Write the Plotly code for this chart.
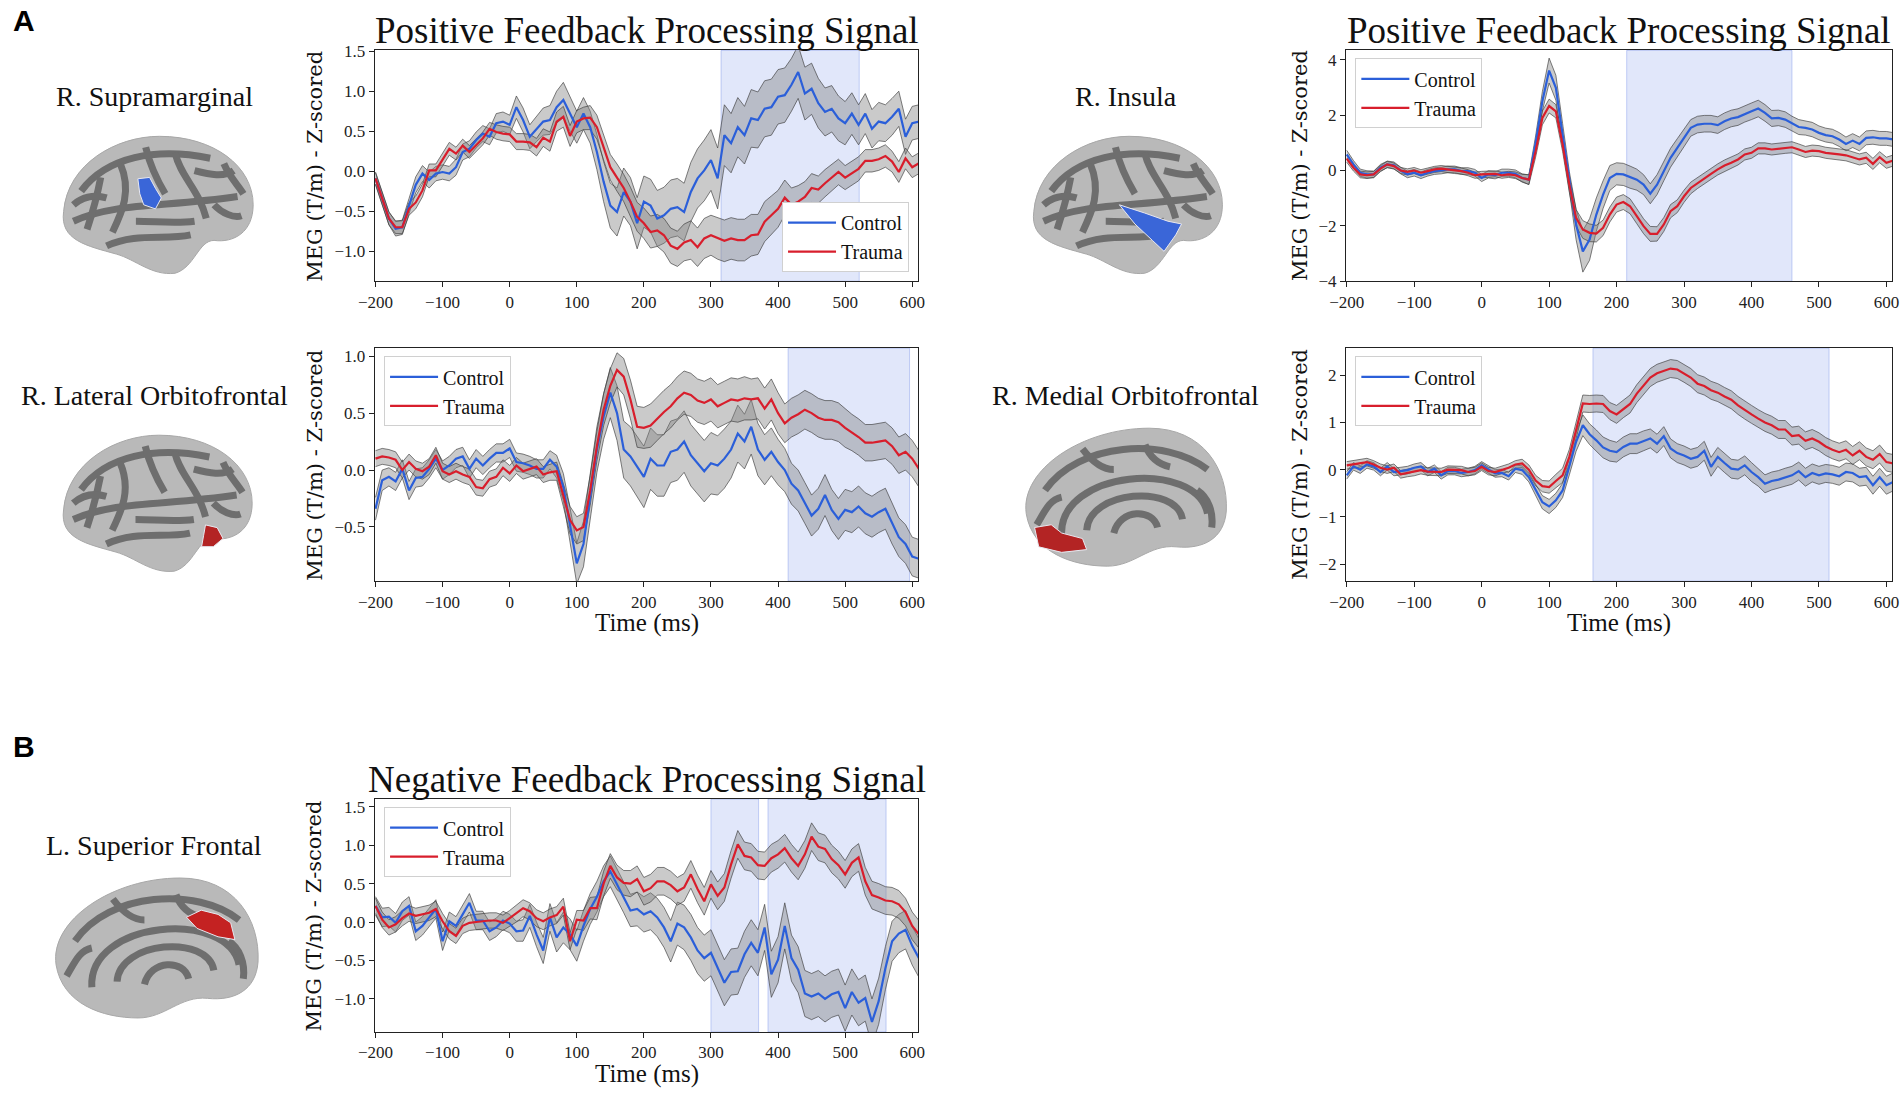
import plotly.graph_objects as go

W, H = 1902, 1094

# ---- values (10 ms steps) ----
time_ms = list(range(-200, 620, 10))
x_ticks = [-200, -100, 0, 100, 200, 300, 400, 500, 600]

supramarginal_control = [
    -0.09, -0.34, -0.59, -0.72, -0.70, -0.43, -0.17, -0.03, -0.11, -0.03,
    -0.01, -0.03, 0.05, 0.24, 0.28, 0.39, 0.47, 0.43, 0.60, 0.62,
    0.58, 0.80, 0.64, 0.43, 0.53, 0.62, 0.64, 0.80, 0.89, 0.72,
    0.55, 0.72, 0.55, 0.24, -0.13, -0.43, -0.51, -0.26, -0.38, -0.65,
    -0.38, -0.43, -0.59, -0.55, -0.47, -0.45, -0.51, -0.26, -0.09, 0.01,
    0.14, -0.09, 0.45, 0.35, 0.55, 0.45, 0.66, 0.64, 0.78, 0.80,
    0.93, 0.95, 1.08, 1.24, 0.97, 1.03, 0.85, 0.74, 0.78, 0.66,
    0.60, 0.72, 0.58, 0.72, 0.53, 0.62, 0.60, 0.68, 0.78, 0.43,
    0.60, 0.62]
supramarginal_control_sem = [
    0.08, 0.08, 0.08, 0.09, 0.09, 0.09, 0.10, 0.10, 0.10, 0.09,
    0.09, 0.09, 0.10, 0.10, 0.10, 0.10, 0.10, 0.10, 0.12, 0.12,
    0.12, 0.14, 0.15, 0.15, 0.16, 0.17, 0.18, 0.20, 0.22, 0.22,
    0.20, 0.20, 0.20, 0.22, 0.25, 0.28, 0.30, 0.30, 0.30, 0.32,
    0.32, 0.33, 0.35, 0.35, 0.36, 0.36, 0.36, 0.37, 0.37, 0.38,
    0.38, 0.38, 0.38, 0.37, 0.37, 0.36, 0.36, 0.35, 0.35, 0.35,
    0.34, 0.34, 0.33, 0.33, 0.33, 0.32, 0.31, 0.30, 0.29, 0.28,
    0.27, 0.26, 0.25, 0.25, 0.24, 0.24, 0.23, 0.23, 0.22, 0.22,
    0.21, 0.21]
supramarginal_trauma = [
    -0.09, -0.34, -0.59, -0.70, -0.70, -0.47, -0.39, -0.24, 0.01, 0.01,
    0.15, 0.28, 0.22, 0.32, 0.24, 0.33, 0.41, 0.53, 0.49, 0.47,
    0.46, 0.37, 0.37, 0.36, 0.30, 0.42, 0.37, 0.62, 0.68, 0.44,
    0.62, 0.66, 0.67, 0.55, 0.30, 0.05, -0.08, -0.21, -0.38, -0.57,
    -0.65, -0.76, -0.74, -0.80, -0.93, -0.97, -0.89, -0.86, -0.95, -0.84,
    -0.80, -0.84, -0.87, -0.84, -0.86, -0.86, -0.80, -0.79, -0.63, -0.55,
    -0.47, -0.33, -0.42, -0.38, -0.32, -0.21, -0.23, -0.15, -0.08, -0.01,
    -0.08, -0.03, 0.03, 0.13, 0.13, 0.15, 0.19, 0.12, -0.01, 0.16,
    0.05, 0.10]
supramarginal_trauma_sem = [
    0.07, 0.07, 0.08, 0.08, 0.08, 0.08, 0.08, 0.08, 0.08, 0.08,
    0.08, 0.08, 0.08, 0.08, 0.08, 0.08, 0.08, 0.08, 0.09, 0.09,
    0.09, 0.10, 0.10, 0.10, 0.11, 0.11, 0.12, 0.12, 0.13, 0.13,
    0.14, 0.14, 0.15, 0.15, 0.16, 0.16, 0.17, 0.17, 0.18, 0.18,
    0.19, 0.20, 0.20, 0.21, 0.22, 0.22, 0.23, 0.24, 0.24, 0.25,
    0.25, 0.26, 0.26, 0.26, 0.26, 0.26, 0.26, 0.25, 0.25, 0.24,
    0.23, 0.22, 0.21, 0.20, 0.19, 0.18, 0.17, 0.17, 0.16, 0.16,
    0.15, 0.15, 0.15, 0.14, 0.14, 0.14, 0.14, 0.13, 0.13, 0.13,
    0.13, 0.13]

insula_control = [
    0.58, 0.22, -0.08, -0.14, -0.14, 0.10, 0.22, 0.19, 0.00, -0.14,
    -0.08, -0.17, -0.08, -0.02, 0.00, 0.04, 0.04, -0.02, -0.02, -0.08,
    -0.27, -0.14, -0.17, -0.08, -0.08, -0.12, -0.27, -0.33, 1.00, 2.50,
    3.61, 2.99, 1.30, -0.39, -1.95, -2.92, -2.49, -1.59, -0.87, -0.27,
    -0.12, -0.14, -0.24, -0.33, -0.51, -0.84, -0.51, -0.02, 0.46, 0.82,
    1.18, 1.54, 1.66, 1.69, 1.69, 1.64, 1.78, 1.88, 1.93, 2.05,
    2.14, 2.24, 2.08, 1.88, 1.90, 1.84, 1.69, 1.57, 1.54, 1.48,
    1.36, 1.28, 1.24, 1.12, 0.96, 1.08, 0.96, 1.18, 1.20, 1.16,
    1.16, 1.12]
insula_control_sem = [
    0.15, 0.14, 0.13, 0.13, 0.12, 0.12, 0.12, 0.12, 0.12, 0.12,
    0.12, 0.12, 0.12, 0.12, 0.12, 0.12, 0.12, 0.12, 0.12, 0.12,
    0.13, 0.13, 0.13, 0.13, 0.13, 0.14, 0.15, 0.17, 0.25, 0.35,
    0.45, 0.45, 0.40, 0.35, 0.55, 0.75, 0.75, 0.60, 0.50, 0.45,
    0.40, 0.40, 0.40, 0.38, 0.36, 0.36, 0.36, 0.35, 0.34, 0.33,
    0.32, 0.30, 0.30, 0.30, 0.30, 0.30, 0.30, 0.30, 0.30, 0.30,
    0.30, 0.30, 0.30, 0.29, 0.28, 0.28, 0.27, 0.27, 0.26, 0.26,
    0.25, 0.25, 0.25, 0.25, 0.25, 0.25, 0.25, 0.25, 0.25, 0.25,
    0.25, 0.25]
insula_trauma = [
    0.43, 0.10, -0.14, -0.17, -0.14, 0.07, 0.22, 0.16, 0.00, -0.05,
    0.00, -0.08, -0.02, 0.04, 0.07, 0.04, 0.00, -0.02, -0.08, -0.17,
    -0.14, -0.14, -0.12, -0.17, -0.14, -0.17, -0.27, -0.33, 0.70, 1.90,
    2.33, 2.14, 0.94, -0.51, -1.71, -2.13, -2.25, -2.28, -2.07, -1.59,
    -1.23, -1.14, -1.29, -1.65, -2.01, -2.29, -2.29, -1.95, -1.47, -1.29,
    -0.93, -0.63, -0.45, -0.27, -0.12, 0.04, 0.18, 0.28, 0.40, 0.58,
    0.64, 0.80, 0.80, 0.76, 0.78, 0.82, 0.84, 0.76, 0.67, 0.72,
    0.70, 0.64, 0.60, 0.58, 0.55, 0.48, 0.40, 0.46, 0.24, 0.48,
    0.28, 0.36]
insula_trauma_sem = [
    0.13, 0.12, 0.12, 0.12, 0.11, 0.11, 0.11, 0.11, 0.11, 0.11,
    0.11, 0.11, 0.11, 0.11, 0.11, 0.11, 0.11, 0.11, 0.11, 0.11,
    0.11, 0.11, 0.11, 0.11, 0.11, 0.12, 0.13, 0.18, 0.22, 0.25,
    0.25, 0.24, 0.25, 0.28, 0.30, 0.32, 0.32, 0.30, 0.28, 0.27,
    0.27, 0.27, 0.27, 0.27, 0.27, 0.27, 0.26, 0.25, 0.24, 0.23,
    0.22, 0.21, 0.20, 0.20, 0.20, 0.20, 0.20, 0.20, 0.20, 0.20,
    0.20, 0.20, 0.20, 0.20, 0.20, 0.20, 0.20, 0.20, 0.20, 0.20,
    0.20, 0.20, 0.20, 0.20, 0.20, 0.20, 0.20, 0.20, 0.20, 0.20,
    0.20, 0.20]

lat_ofc_control = [
    -0.34, -0.09, -0.06, -0.10, 0.01, -0.18, -0.07, -0.06, 0.01, 0.10,
    0.00, 0.04, 0.10, 0.12, 0.01, 0.10, 0.04, 0.10, 0.15, 0.15,
    0.19, 0.07, 0.06, 0.04, 0.01, 0.01, 0.09, 0.03, -0.15, -0.47,
    -0.82, -0.65, -0.24, 0.18, 0.47, 0.68, 0.50, 0.18, 0.12, 0.03,
    -0.06, 0.10, 0.04, 0.04, 0.16, 0.18, 0.25, 0.13, 0.06, -0.01,
    0.06, 0.04, 0.10, 0.18, 0.32, 0.25, 0.38, 0.18, 0.09, 0.16,
    0.07, 0.00, -0.12, -0.18, -0.29, -0.40, -0.34, -0.22, -0.35, -0.43,
    -0.35, -0.37, -0.32, -0.38, -0.41, -0.37, -0.34, -0.47, -0.59, -0.65,
    -0.76, -0.78]
lat_ofc_control_sem = [
    0.10, 0.09, 0.08, 0.08, 0.08, 0.08, 0.08, 0.08, 0.08, 0.08,
    0.08, 0.08, 0.08, 0.08, 0.08, 0.08, 0.08, 0.08, 0.08, 0.08,
    0.08, 0.08, 0.08, 0.08, 0.08, 0.08, 0.08, 0.10, 0.12, 0.15,
    0.18, 0.20, 0.20, 0.20, 0.20, 0.22, 0.24, 0.25, 0.26, 0.27,
    0.27, 0.27, 0.27, 0.27, 0.27, 0.27, 0.27, 0.27, 0.27, 0.27,
    0.27, 0.26, 0.26, 0.25, 0.25, 0.24, 0.24, 0.23, 0.22, 0.21,
    0.20, 0.19, 0.18, 0.18, 0.18, 0.18, 0.18, 0.18, 0.18, 0.18,
    0.18, 0.18, 0.18, 0.18, 0.18, 0.18, 0.18, 0.18, 0.17, 0.17,
    0.17, 0.17]
lat_ofc_trauma = [
    0.10, 0.12, 0.11, 0.09, 0.00, 0.07, 0.01, -0.01, 0.03, 0.13,
    -0.01, -0.04, -0.01, -0.04, -0.06, -0.15, -0.16, -0.08, -0.06, 0.02,
    -0.03, 0.04, -0.01, 0.01, 0.03, -0.04, -0.02, -0.01, -0.22, -0.44,
    -0.53, -0.50, -0.18, 0.21, 0.53, 0.74, 0.88, 0.82, 0.62, 0.38,
    0.37, 0.39, 0.45, 0.51, 0.56, 0.63, 0.68, 0.66, 0.61, 0.59,
    0.62, 0.56, 0.59, 0.62, 0.61, 0.63, 0.62, 0.63, 0.54, 0.62,
    0.50, 0.41, 0.46, 0.49, 0.53, 0.50, 0.46, 0.44, 0.44, 0.42,
    0.37, 0.33, 0.29, 0.24, 0.24, 0.25, 0.26, 0.21, 0.13, 0.16,
    0.10, 0.01]
lat_ofc_trauma_sem = [
    0.07, 0.07, 0.07, 0.07, 0.07, 0.07, 0.07, 0.07, 0.07, 0.07,
    0.07, 0.07, 0.07, 0.07, 0.07, 0.07, 0.07, 0.07, 0.07, 0.07,
    0.07, 0.07, 0.07, 0.07, 0.07, 0.07, 0.07, 0.08, 0.10, 0.12,
    0.12, 0.12, 0.13, 0.13, 0.14, 0.15, 0.15, 0.16, 0.17, 0.18,
    0.18, 0.19, 0.19, 0.19, 0.19, 0.19, 0.19, 0.19, 0.19, 0.19,
    0.19, 0.19, 0.19, 0.19, 0.19, 0.19, 0.18, 0.18, 0.18, 0.18,
    0.18, 0.17, 0.17, 0.17, 0.17, 0.17, 0.17, 0.17, 0.17, 0.17,
    0.17, 0.16, 0.16, 0.16, 0.16, 0.16, 0.16, 0.16, 0.16, 0.16,
    0.16, 0.16]

med_ofc_control = [
    -0.12, 0.07, 0.00, 0.11, 0.07, -0.05, 0.07, -0.05, -0.03, -0.01,
    0.04, 0.07, -0.05, 0.02, -0.12, -0.03, -0.03, -0.07, -0.05, -0.01,
    0.09, 0.00, -0.08, -0.07, -0.14, 0.02, -0.01, -0.16, -0.42, -0.69,
    -0.78, -0.65, -0.44, 0.06, 0.59, 0.94, 0.75, 0.62, 0.47, 0.40,
    0.37, 0.48, 0.55, 0.55, 0.61, 0.66, 0.55, 0.71, 0.45, 0.35,
    0.30, 0.23, 0.27, 0.40, 0.06, 0.27, 0.14, 0.02, 0.00, 0.09,
    -0.05, -0.16, -0.30, -0.24, -0.21, -0.16, -0.12, -0.03, -0.16, -0.07,
    -0.12, -0.08, -0.10, -0.14, -0.05, -0.07, -0.16, -0.14, -0.33, -0.16,
    -0.33, -0.26]
med_ofc_control_sem = [
    0.08, 0.08, 0.08, 0.08, 0.08, 0.08, 0.08, 0.08, 0.08, 0.08,
    0.08, 0.08, 0.08, 0.08, 0.08, 0.08, 0.08, 0.08, 0.08, 0.08,
    0.08, 0.08, 0.08, 0.08, 0.08, 0.08, 0.09, 0.10, 0.12, 0.14,
    0.15, 0.15, 0.15, 0.17, 0.20, 0.22, 0.22, 0.22, 0.22, 0.22,
    0.21, 0.21, 0.21, 0.21, 0.21, 0.20, 0.20, 0.20, 0.20, 0.20,
    0.20, 0.20, 0.20, 0.20, 0.20, 0.20, 0.20, 0.20, 0.20, 0.20,
    0.20, 0.19, 0.19, 0.19, 0.19, 0.19, 0.19, 0.19, 0.19, 0.19,
    0.19, 0.19, 0.19, 0.19, 0.19, 0.19, 0.19, 0.19, 0.19, 0.19,
    0.19, 0.19]
med_ofc_trauma = [
    0.09, 0.11, 0.13, 0.16, 0.11, 0.04, 0.00, 0.04, -0.10, -0.07,
    -0.05, -0.01, -0.04, -0.05, -0.05, 0.00, -0.01, -0.01, -0.05, -0.03,
    0.06, -0.03, -0.05, 0.00, 0.04, 0.11, 0.13, 0.00, -0.23, -0.35,
    -0.37, -0.24, -0.12, 0.27, 0.83, 1.40, 1.39, 1.40, 1.39, 1.24,
    1.17, 1.29, 1.39, 1.61, 1.79, 1.95, 2.04, 2.09, 2.14, 2.12,
    2.04, 1.95, 1.82, 1.77, 1.68, 1.63, 1.55, 1.48, 1.36, 1.26,
    1.17, 1.08, 1.00, 0.94, 0.85, 0.85, 0.71, 0.73, 0.61, 0.66,
    0.59, 0.49, 0.42, 0.37, 0.42, 0.30, 0.40, 0.27, 0.21, 0.33,
    0.16, 0.13]
med_ofc_trauma_sem = [
    0.08, 0.08, 0.08, 0.08, 0.08, 0.08, 0.08, 0.08, 0.08, 0.08,
    0.08, 0.08, 0.08, 0.08, 0.08, 0.08, 0.08, 0.08, 0.08, 0.08,
    0.08, 0.08, 0.08, 0.08, 0.08, 0.08, 0.09, 0.10, 0.11, 0.12,
    0.13, 0.14, 0.15, 0.16, 0.17, 0.18, 0.18, 0.18, 0.18, 0.18,
    0.19, 0.19, 0.19, 0.19, 0.19, 0.19, 0.19, 0.19, 0.19, 0.19,
    0.19, 0.19, 0.19, 0.19, 0.19, 0.19, 0.19, 0.19, 0.19, 0.19,
    0.19, 0.19, 0.19, 0.19, 0.19, 0.19, 0.19, 0.19, 0.19, 0.19,
    0.19, 0.19, 0.19, 0.19, 0.19, 0.19, 0.19, 0.19, 0.19, 0.19,
    0.19, 0.19]

sup_frontal_control = [
    0.21, 0.06, 0.07, -0.01, 0.14, 0.21, -0.12, -0.05, 0.06, 0.17,
    -0.25, 0.01, -0.05, 0.10, 0.25, 0.02, 0.02, -0.12, -0.07, 0.02,
    -0.02, -0.12, -0.11, 0.08, -0.16, -0.37, 0.06, -0.20, -0.07, -0.16,
    -0.31, -0.05, 0.17, 0.33, 0.53, 0.66, 0.48, 0.32, 0.15, 0.17,
    0.10, 0.14, 0.06, -0.07, -0.25, -0.02, -0.07, -0.20, -0.37, -0.47,
    -0.40, -0.60, -0.79, -0.65, -0.64, -0.42, -0.27, -0.40, -0.07, -0.68,
    -0.49, -0.05, -0.47, -0.62, -0.93, -0.97, -0.93, -1.00, -0.94, -0.91,
    -1.12, -0.91, -1.05, -0.99, -1.30, -1.03, -0.60, -0.25, -0.15, -0.10,
    -0.31, -0.47]
sup_frontal_control_sem = [
    0.12, 0.12, 0.12, 0.12, 0.12, 0.12, 0.12, 0.12, 0.12, 0.12,
    0.12, 0.12, 0.12, 0.12, 0.12, 0.12, 0.12, 0.12, 0.12, 0.12,
    0.12, 0.13, 0.14, 0.15, 0.16, 0.17, 0.18, 0.19, 0.20, 0.20,
    0.20, 0.20, 0.20, 0.20, 0.20, 0.20, 0.20, 0.20, 0.21, 0.22,
    0.23, 0.24, 0.25, 0.26, 0.27, 0.28, 0.29, 0.30, 0.30, 0.30,
    0.30, 0.30, 0.30, 0.30, 0.30, 0.30, 0.30, 0.30, 0.30, 0.30,
    0.30, 0.30, 0.30, 0.30, 0.30, 0.30, 0.30, 0.30, 0.30, 0.30,
    0.30, 0.30, 0.30, 0.30, 0.30, 0.30, 0.28, 0.26, 0.25, 0.25,
    0.25, 0.25]
sup_frontal_trauma = [
    0.21, 0.03, -0.07, -0.03, 0.05, 0.11, 0.08, 0.10, 0.12, 0.17,
    0.01, -0.12, -0.18, -0.05, -0.01, 0.00, 0.01, 0.02, 0.02, -0.01,
    0.05, 0.11, 0.18, 0.14, 0.05, 0.01, 0.06, 0.09, 0.20, -0.25,
    0.03, 0.02, 0.18, 0.18, 0.50, 0.73, 0.58, 0.51, 0.50, 0.56,
    0.40, 0.44, 0.53, 0.53, 0.48, 0.40, 0.45, 0.62, 0.43, 0.27,
    0.49, 0.34, 0.45, 0.75, 1.01, 0.86, 0.84, 0.74, 0.73, 0.83,
    0.88, 0.96, 0.83, 0.73, 0.88, 1.11, 0.98, 0.95, 0.82, 0.74,
    0.62, 0.77, 0.84, 0.53, 0.35, 0.32, 0.28, 0.27, 0.23, 0.13,
    -0.05, -0.16]
sup_frontal_trauma_sem = [
    0.10, 0.10, 0.10, 0.10, 0.10, 0.10, 0.10, 0.10, 0.10, 0.10,
    0.10, 0.10, 0.10, 0.10, 0.10, 0.10, 0.10, 0.10, 0.10, 0.10,
    0.10, 0.11, 0.11, 0.11, 0.11, 0.11, 0.11, 0.11, 0.11, 0.11,
    0.12, 0.13, 0.14, 0.15, 0.16, 0.16, 0.16, 0.16, 0.17, 0.17,
    0.18, 0.18, 0.18, 0.18, 0.18, 0.18, 0.18, 0.18, 0.18, 0.18,
    0.18, 0.18, 0.18, 0.18, 0.18, 0.18, 0.18, 0.18, 0.18, 0.18,
    0.18, 0.18, 0.18, 0.18, 0.18, 0.18, 0.18, 0.18, 0.18, 0.18,
    0.18, 0.18, 0.18, 0.18, 0.18, 0.18, 0.18, 0.18, 0.18, 0.18,
    0.18, 0.18]

# significant time windows (ms)
supramarginal_windows = [(315, 521)]
insula_windows = [(215, 460)]
lat_ofc_windows = [(415, 596)]
med_ofc_windows = [(165, 515)]
sup_frontal_windows = [(300, 371), (385, 561)]

BLUE = "#2b5fd9"
RED = "#d81e2c"
SERIF = "Liberation Serif"

# pixel boxes of each axes in the reference: left, top, right, bottom
panels = [
    dict(control=supramarginal_control, control_sem=supramarginal_control_sem,
         trauma=supramarginal_trauma, trauma_sem=supramarginal_trauma_sem,
         windows=supramarginal_windows, box=(373, 52, 918, 283),
         yrange=[-1.375, 1.51], yticks=[-1.0, -0.5, 0.0, 0.5, 1.0, 1.5], yfmt=".1f",
         title="Positive Feedback Processing Signal", xtitle=False, legend="br"),
    dict(control=insula_control, control_sem=insula_control_sem,
         trauma=insula_trauma, trauma_sem=insula_trauma_sem,
         windows=insula_windows, box=(1347, 52, 1895, 283),
         yrange=[-4.0, 4.34], yticks=[-4, -2, 0, 2, 4], yfmt="d",
         title="Positive Feedback Processing Signal", xtitle=False, legend="tl"),
    dict(control=lat_ofc_control, control_sem=lat_ofc_control_sem,
         trauma=lat_ofc_trauma, trauma_sem=lat_ofc_trauma_sem,
         windows=lat_ofc_windows, box=(373, 350, 918, 583),
         yrange=[-0.976, 1.07], yticks=[-0.5, 0.0, 0.5, 1.0], yfmt=".1f",
         title=None, xtitle=True, legend="tl"),
    dict(control=med_ofc_control, control_sem=med_ofc_control_sem,
         trauma=med_ofc_trauma, trauma_sem=med_ofc_trauma_sem,
         windows=med_ofc_windows, box=(1347, 350, 1895, 583),
         yrange=[-2.36, 2.57], yticks=[-2, -1, 0, 1, 2], yfmt="d",
         title=None, xtitle=True, legend="tl"),
    dict(control=sup_frontal_control, control_sem=sup_frontal_control_sem,
         trauma=sup_frontal_trauma, trauma_sem=sup_frontal_trauma_sem,
         windows=sup_frontal_windows, box=(373, 801, 918, 1034),
         yrange=[-1.43, 1.6], yticks=[-1.0, -0.5, 0.0, 0.5, 1.0, 1.5], yfmt=".1f",
         title="Negative Feedback Processing Signal", xtitle=True, legend="tl"),
]

regions = [
    ("R. Supramarginal", 152, 98),
    ("R. Insula", 1126, 98),
    ("R. Lateral Orbitofrontal", 152, 397),
    ("R. Medial Orbitofrontal", 1126, 397),
    ("L. Superior Frontal", 152, 847),
]


# the captured page shows the figure slightly shrunk toward its centre,
# so positions measured on the reference are stretched back out here
def px(x):
    return (1.0099 * x - 14.3) / W


def py(y):
    return 1 - (600 + (y - 600) * 1.0163) / H


fig = go.Figure()
shapes = []
annotations = []
layout = {}

for i, p in enumerate(panels, start=1):
    sfx = "" if i == 1 else str(i)
    xa, ya = "x" + sfx, "y" + sfx
    leg = "legend" + sfx
    left, top, right, bottom = p["box"]

    for key in ("control", "trauma"):
        mean, sem = p[key], p[key + "_sem"]
        upper = [m + s for m, s in zip(mean, sem)]
        lower = [m - s for m, s in zip(mean, sem)]
        fig.add_trace(go.Scatter(
            x=time_ms + time_ms[::-1], y=upper + lower[::-1],
            fill="toself", fillcolor="rgba(128,128,128,0.42)",
            line=dict(color="rgba(60,60,60,0.65)", width=1),
            hoverinfo="skip", showlegend=False, xaxis=xa, yaxis=ya))
    for key, color, name in (("control", BLUE, "Control"), ("trauma", RED, "Trauma")):
        fig.add_trace(go.Scatter(
            x=time_ms, y=p[key], mode="lines", name=name,
            line=dict(color=color, width=2.2), legend=leg,
            xaxis=xa, yaxis=ya))

    for a, b in p["windows"]:
        shapes.append(dict(type="rect", xref=xa, yref=ya + " domain", x0=a, x1=b, y0=0, y1=1,
                           fillcolor="rgba(75,110,225,0.17)",
                           line=dict(color="rgba(75,110,225,0.30)", width=1), layer="below"))

    axis_common = dict(showline=True, mirror=True, linecolor="#222", linewidth=1.3,
                       ticks="outside", ticklen=5, tickcolor="#222", showgrid=False,
                       zeroline=False, tickfont=dict(family=SERIF, size=17, color="#222"))
    layout["xaxis" + sfx] = dict(domain=[px(left), px(right)], anchor=ya, range=[-201, 609],
                                 tickvals=x_ticks, **axis_common)
    layout["yaxis" + sfx] = dict(domain=[py(bottom), py(top)], anchor=xa, range=p["yrange"],
                                 tickvals=p["yticks"], tickformat=p["yfmt"], **axis_common)

    w, h = right - left, bottom - top
    if p["legend"] == "br":
        lx, ly, xan, yan = px(left + 0.983 * w), py(bottom - 0.04 * h), "right", "bottom"
    else:
        lx, ly, xan, yan = px(left + 0.017 * w), py(top + 0.035 * h), "left", "top"
    layout[leg] = dict(x=lx, y=ly, xanchor=xan, yanchor=yan, bgcolor="white",
                       bordercolor="#d0d0d0", borderwidth=1, itemwidth=48,
                       font=dict(family=SERIF, size=20, color="#111"), tracegroupgap=2)

    cx = (left + right) / 2
    if p["title"]:
        annotations.append(dict(text=p["title"], x=px(cx), y=py(top - 20), xref="paper", yref="paper",
                                showarrow=False, xanchor="center", yanchor="middle",
                                font=dict(family=SERIF, size=37, color="#111")))
    if p["xtitle"]:
        annotations.append(dict(text="Time (ms)", x=px(cx), y=py(bottom + 42), xref="paper", yref="paper",
                                showarrow=False, xanchor="center", yanchor="middle",
                                font=dict(family=SERIF, size=25, color="#111")))
    ylab_x = 313 if left < 900 else 1301
    annotations.append(dict(text="MEG (T/m) - Z-scored", x=px(ylab_x), y=py((top + bottom) / 2),
                            xref="paper", yref="paper", showarrow=False, textangle=-90,
                            xanchor="center", yanchor="middle",
                            font=dict(family="DejaVu Serif", size=21, color="#111")))

for text, x, y in regions:
    annotations.append(dict(text=text, x=px(x), y=py(y), xref="paper", yref="paper",
                            showarrow=False, xanchor="center", yanchor="middle",
                            font=dict(family=SERIF, size=28, color="#111")))
for text, y in (("A", 22), ("B", 748)):
    annotations.append(dict(text="<b>" + text + "</b>", x=px(21), y=py(y), xref="paper", yref="paper",
                            showarrow=False, xanchor="center", yanchor="middle",
                            font=dict(family="Liberation Sans", size=30, color="#000")))

# ---- schematic brain surfaces (decoration) ----
LATERAL = [("M", (0.03, 0.55)), ("C", (0.05, 0.2), (0.3, 0.0), (0.52, 0.0)),
           ("C", (0.8, 0.0), (1.0, 0.22), (1.0, 0.5)), ("C", (1.0, 0.7), (0.9, 0.78), (0.8, 0.76)),
           ("C", (0.72, 0.76), (0.7, 0.96), (0.6, 1.0)), ("C", (0.48, 1.02), (0.4, 0.9), (0.3, 0.86)),
           ("C", (0.15, 0.8), (0.01, 0.76), (0.03, 0.55))]
LATERAL_DARK = [
    [("M", (0.12, 0.4)), ("C", (0.25, 0.15), (0.5, 0.08), (0.78, 0.16))],
    [("M", (0.08, 0.62)), ("C", (0.3, 0.48), (0.55, 0.52), (0.92, 0.44))],
    [("M", (0.25, 0.8)), ("C", (0.4, 0.7), (0.55, 0.76), (0.68, 0.72))],
    [("M", (0.32, 0.2)), ("C", (0.38, 0.4), (0.33, 0.55), (0.28, 0.7))],
    [("M", (0.6, 0.12)), ("C", (0.63, 0.3), (0.72, 0.38), (0.76, 0.6))],
    [("M", (0.85, 0.2)), ("C", (0.88, 0.3), (0.92, 0.35), (0.95, 0.42))],
    [("M", (0.15, 0.68)), ("C", (0.18, 0.55), (0.2, 0.45), (0.22, 0.3))],
    [("M", (0.45, 0.08)), ("C", (0.47, 0.2), (0.5, 0.3), (0.55, 0.42))],
    [("M", (0.08, 0.5)), ("C", (0.12, 0.45), (0.18, 0.42), (0.25, 0.45))],
    [("M", (0.7, 0.25)), ("C", (0.78, 0.28), (0.85, 0.3), (0.9, 0.25))],
    [("M", (0.4, 0.62)), ("C", (0.5, 0.62), (0.6, 0.64), (0.7, 0.62))],
    [("M", (0.8, 0.5)), ("C", (0.84, 0.56), (0.9, 0.6), (0.94, 0.58))],
]
MEDIAL = [("M", (0.03, 0.62)), ("C", (0.0, 0.3), (0.3, 0.0), (0.62, 0.0)),
          ("C", (0.88, 0.0), (1.0, 0.3), (0.99, 0.6)), ("C", (0.98, 0.8), (0.88, 0.88), (0.75, 0.86)),
          ("C", (0.62, 0.84), (0.55, 1.0), (0.42, 1.0)), ("C", (0.25, 1.0), (0.06, 0.9), (0.03, 0.62))]
MEDIAL_DARK = [
    [("M", (0.2, 0.78)), ("C", (0.18, 0.3), (0.85, 0.22), (0.9, 0.62))],
    [("M", (0.32, 0.74)), ("C", (0.33, 0.45), (0.75, 0.4), (0.78, 0.66))],
    [("M", (0.12, 0.45)), ("C", (0.28, 0.1), (0.7, 0.06), (0.9, 0.3))],
    [("M", (0.45, 0.76)), ("C", (0.48, 0.58), (0.64, 0.58), (0.66, 0.72))],
    [("M", (0.3, 0.15)), ("C", (0.35, 0.25), (0.4, 0.3), (0.45, 0.3))],
    [("M", (0.6, 0.12)), ("C", (0.62, 0.2), (0.66, 0.26), (0.72, 0.28))],
    [("M", (0.08, 0.7)), ("C", (0.12, 0.6), (0.14, 0.52), (0.2, 0.5))],
    [("M", (0.85, 0.45)), ("C", (0.9, 0.5), (0.93, 0.6), (0.92, 0.72))],
]
brains = [
    (55, 138, 196, 137, "lateral", "#3a66d8",
     [(0.41, 0.31), (0.47, 0.30), (0.5, 0.38), (0.53, 0.45), (0.5, 0.53), (0.44, 0.5), (0.42, 0.42)]),
    (1028, 138, 195, 137, "lateral", "#3a66d8",
     [(0.47, 0.5), (0.6, 0.56), (0.72, 0.62), (0.79, 0.64), (0.76, 0.72), (0.7, 0.84), (0.64, 0.76), (0.55, 0.64)]),
    (55, 437, 195, 136, "lateral", "#b32424",
     [(0.76, 0.66), (0.82, 0.68), (0.85, 0.76), (0.8, 0.82), (0.74, 0.82), (0.75, 0.74)]),
    (1020, 430, 209, 138, "medial", "#b32424",
     [(0.07, 0.72), (0.15, 0.7), (0.2, 0.76), (0.3, 0.8), (0.32, 0.88), (0.2, 0.9), (0.09, 0.86)]),
    (47, 880, 211, 140, "medial", "#c42222",
     [(0.65, 0.28), (0.72, 0.23), (0.8, 0.26), (0.86, 0.32), (0.88, 0.44), (0.8, 0.42), (0.7, 0.36)]),
]


def to_path(segs, x0, y0, w, h, close):
    out = []
    for seg in segs:
        cmd, pts = seg[0], seg[1:]
        coords = " ".join(f"{px(x0 + u * w):.5f},{py(y0 + v * h):.5f}" for u, v in pts)
        out.append(cmd + " " + coords)
    return " ".join(out) + (" Z" if close else "")


for x0, y0, w, h, kind, col, region in brains:
    outline = LATERAL if kind == "lateral" else MEDIAL
    dark = LATERAL_DARK if kind == "lateral" else MEDIAL_DARK
    shapes.append(dict(type="path", xref="paper", yref="paper", path=to_path(outline, x0, y0, w, h, True),
                       fillcolor="#b9b9b9", line=dict(color="#a8a8a8", width=1), layer="above"))
    for g in dark:
        shapes.append(dict(type="path", xref="paper", yref="paper", path=to_path(g, x0, y0, w, h, False),
                           fillcolor="rgba(0,0,0,0)", line=dict(color="#6e6e6e", width=7), layer="above"))
    reg = [("M", region[0])] + [("L", pt) for pt in region[1:]]
    shapes.append(dict(type="path", xref="paper", yref="paper", path=to_path(reg, x0, y0, w, h, True),
                       fillcolor=col, line=dict(color="#e8e8f0", width=1), layer="above"))

fig.update_layout(width=W, height=H, margin=dict(l=0, r=0, t=0, b=0),
                  paper_bgcolor="white", plot_bgcolor="white",
                  shapes=shapes, annotations=annotations, **layout)
# the page has a default 8px body margin; drop it so the figure sits at the window origin
fig.write_html("out.html", config={"displayModeBar": False},
               post_script="document.body.style.margin='0';document.body.style.overflow='hidden';")
